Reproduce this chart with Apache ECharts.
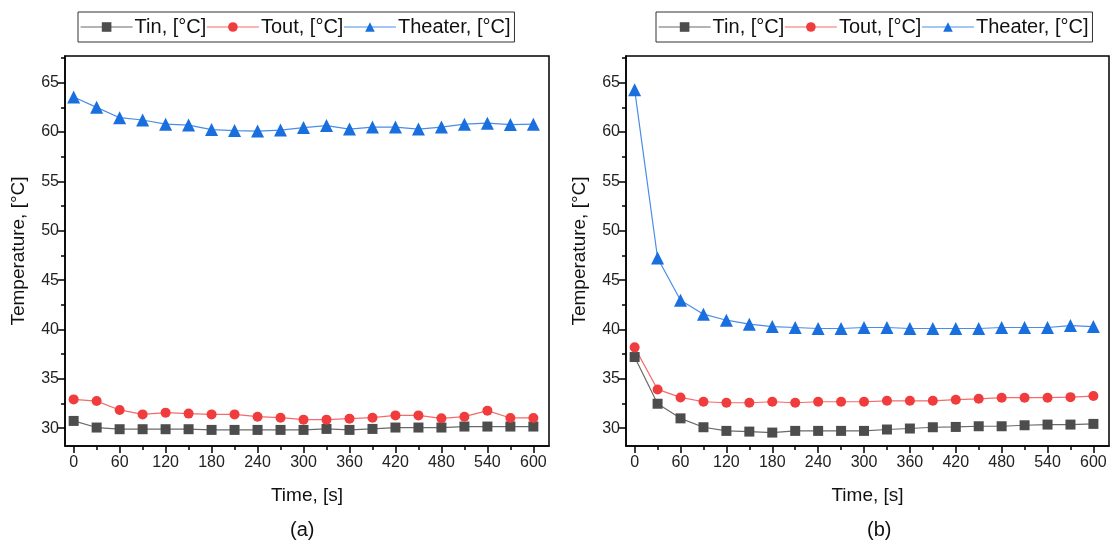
<!DOCTYPE html>
<html>
<head>
<meta charset="utf-8">
<script src="https://cdn.jsdelivr.net/npm/echarts@6/dist/echarts.min.js"></script>
<style>
html,body{margin:0;padding:0;background:#fff;}
#c{width:1112px;height:548px;}
</style>
</head>
<body>
<div id="c"></div>
<script>
const time = [0,30,60,90,120,150,180,210,240,270,300,330,360,390,420,450,480,510,540,570,600];
const seriesNames = ['Tin, [°C]', 'Tout, [°C]', 'Theater, [°C]'];
const panelLabels = ['(a)', '(b)'];
const xMajorTicks = [0,60,120,180,240,300,360,420,480,540,600];
const xMinorTicks = [30,90,150,210,270,330,390,450,510,570];
const yMajorTicks = [30,35,40,45,50,55,60,65];
const yMinorTicks = [32.5,37.5,42.5,47.5,52.5,57.5,62.5,67.5];

// Panel (a)
const tinA = [30.74,30.07,29.9,29.9,29.9,29.9,29.83,29.83,29.83,29.83,29.83,29.93,29.83,29.93,30.07,30.07,30.07,30.17,30.17,30.17,30.17];
const toutA = [32.92,32.75,31.85,31.4,31.58,31.48,31.4,31.4,31.17,31.07,30.87,30.87,30.97,31.07,31.3,31.3,31.0,31.17,31.78,31.04,31.04];
const theaterA = [63.55,62.5,61.45,61.22,60.8,60.7,60.25,60.15,60.1,60.2,60.45,60.65,60.3,60.5,60.5,60.3,60.5,60.8,60.9,60.75,60.8];
// Panel (b)
const tinB = [37.21,32.48,31.0,30.1,29.73,29.66,29.56,29.73,29.73,29.73,29.73,29.87,29.97,30.1,30.13,30.2,30.2,30.3,30.37,30.37,30.44];
const toutB = [38.19,33.93,33.12,32.68,32.58,32.58,32.68,32.58,32.68,32.68,32.68,32.78,32.78,32.78,32.89,32.98,33.09,33.09,33.09,33.15,33.26];
const theaterB = [64.29,47.24,42.96,41.55,40.94,40.54,40.3,40.2,40.1,40.1,40.2,40.2,40.1,40.1,40.1,40.1,40.2,40.2,40.2,40.4,40.3];

const FONT = 'Liberation Sans, Arial, sans-serif';
const colors = ['#4d4d4d', '#f03c3c', '#1a6fdf'];
const lineColors = ['#6a6a6a', '#f56a6a', '#4a8de8'];
const symbols = ['rect', 'circle', 'triangle'];
const symbolSizes = [10, 10, 13];

const X_MIN = -11.3, X_MAX = 620.4, Y_MIN = 28.2, Y_MAX = 67.7;

const grids = [
  {left: 65, right: 563, top: 56, bottom: 102, show: true, borderColor: '#000', borderWidth: 1.5, backgroundColor: 'transparent'},
  {left: 626, right: 3, top: 56, bottom: 102, show: true, borderColor: '#000', borderWidth: 1.5, backgroundColor: 'transparent'}
];

const xAxes = [], yAxes = [];
[0,1].forEach(g => {
  xAxes.push({
    type: 'value', gridIndex: g, min: X_MIN, max: X_MAX, position: 'bottom',
    name: 'Time, [s]', nameLocation: 'middle', nameGap: 40,
    nameTextStyle: {fontFamily: FONT, fontSize: 19, color: '#111'},
    axisLine: {show: true, onZero: false, lineStyle: {color: '#000', width: 1.5}},
    axisTick: {show: true, length: 7, customValues: xMajorTicks, lineStyle: {color: '#000', width: 1.5}},
    axisLabel: {show: true, customValues: xMajorTicks, fontFamily: FONT, fontSize: 16, color: '#222', margin: 9},
    splitLine: {show: false}
  });
  xAxes.push({
    type: 'value', gridIndex: g, min: X_MIN, max: X_MAX, position: 'bottom', offset: 0,
    axisLine: {show: false, onZero: false},
    axisTick: {show: true, length: 4, customValues: xMinorTicks, lineStyle: {color: '#000', width: 1.5}},
    axisLabel: {show: false},
    splitLine: {show: false}
  });
  yAxes.push({
    type: 'value', gridIndex: g, min: Y_MIN, max: Y_MAX, position: 'left',
    name: 'Temperature, [°C]', nameLocation: 'middle', nameGap: 37,
    nameTextStyle: {fontFamily: FONT, fontSize: 19, color: '#111'},
    axisLine: {show: true, onZero: false, lineStyle: {color: '#000', width: 1.5}},
    axisTick: {show: true, length: 7, customValues: yMajorTicks, lineStyle: {color: '#000', width: 1.5}},
    axisLabel: {show: true, customValues: yMajorTicks, fontFamily: FONT, fontSize: 16, color: '#222', margin: 6},
    splitLine: {show: false}
  });
  yAxes.push({
    type: 'value', gridIndex: g, min: Y_MIN, max: Y_MAX, position: 'left', offset: 0,
    axisLine: {show: false, onZero: false},
    axisTick: {show: true, length: 4, customValues: yMinorTicks, lineStyle: {color: '#000', width: 1.5}},
    axisLabel: {show: false},
    splitLine: {show: false}
  });
});

const panels = [[tinA, toutA, theaterA], [tinB, toutB, theaterB]];
const series = [];
panels.forEach((arrs, p) => {
  arrs.forEach((vals, i) => {
    series.push({
      name: seriesNames[i], type: 'line',
      xAxisIndex: p * 2, yAxisIndex: p * 2,
      data: time.map((t, k) => [t, vals[k]]),
      symbol: symbols[i], symbolSize: symbolSizes[i], showSymbol: true,
      itemStyle: {color: colors[i]},
      lineStyle: {color: lineColors[i], width: 1.2},
      emphasis: {disabled: true},
      animation: false
    });
  });
});

const legendBase = {
  data: seriesNames.map((n, i) => ({name: n, itemStyle: {color: colors[i]}, lineStyle: {color: lineColors[i], width: 1.2}})),
  top: 12, orient: 'horizontal', itemGap: 0, itemWidth: 52, itemHeight: 12,
  borderColor: '#333', borderWidth: 1, padding: [5, 4, 5, 2],
  textStyle: {fontFamily: FONT, fontSize: 20, color: '#111', padding: [0, 0, 0, -3]},
  selectedMode: false
};

const option = {
  backgroundColor: '#fff',
  animation: false,
  grid: grids,
  xAxis: xAxes,
  yAxis: yAxes,
  legend: [
    Object.assign({}, legendBase, {left: 78}),
    Object.assign({}, legendBase, {left: 656})
  ],
  graphic: [
    {type: 'text', left: 290, top: 520, style: {text: panelLabels[0], font: '20px ' + FONT, fill: '#111'}},
    {type: 'text', left: 867, top: 520, style: {text: panelLabels[1], font: '20px ' + FONT, fill: '#111'}}
  ],
  series: series
};

const chart = echarts.init(document.getElementById('c'), null, {renderer: 'canvas'});
chart.setOption(option);
</script>
</body>
</html>
